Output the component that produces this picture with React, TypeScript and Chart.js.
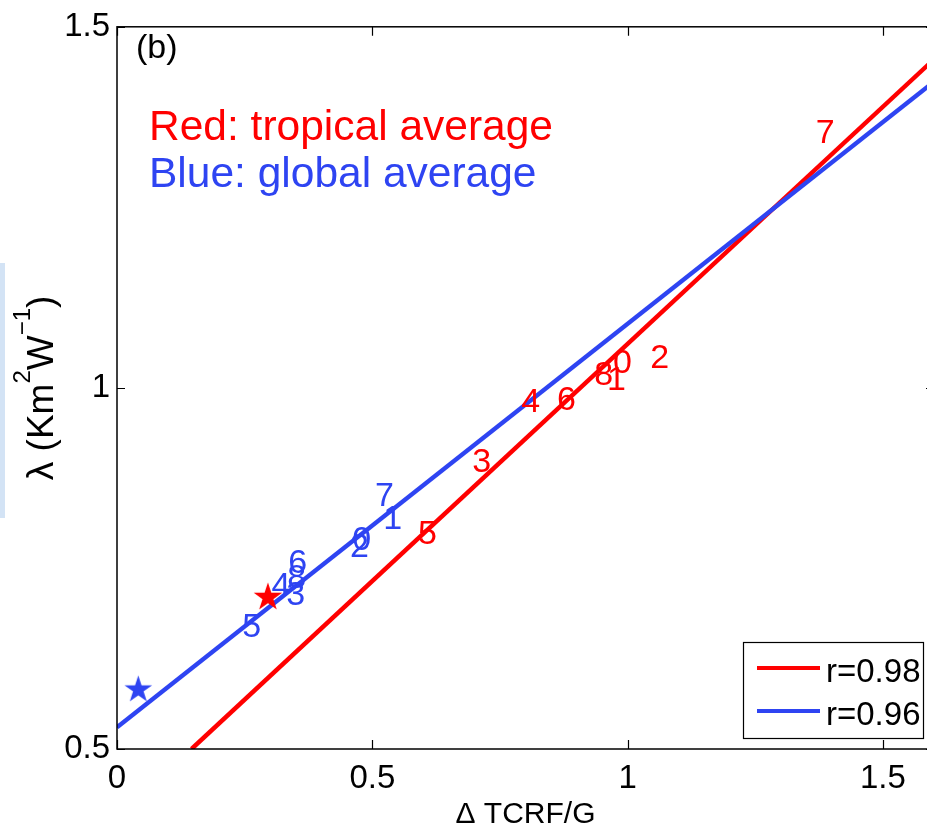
import React, { useEffect, useRef } from "react";
import { Chart, registerables } from "chart.js";

Chart.register(...registerables);

// ---- data ----
const X_TICKS = [0, 0.5, 1, 1.5];
const Y_TICKS = [0.5, 1, 1.5];
const X_MIN = 0;
const X_MAX = 1.6;
const Y_MIN = 0.5;
const Y_MAX = 1.5;

const MODEL_LABELS = ["0", "1", "2", "3", "4", "5", "6", "7", "8"];
const RED_X = [0.99, 0.978, 1.063, 0.714, 0.81, 0.608, 0.88, 1.387, 0.953];
const RED_Y = [1.034, 1.01, 1.041, 0.896, 0.98, 0.797, 0.983, 1.352, 1.017];
const BLUE_X = [0.479, 0.54, 0.475, 0.35, 0.321, 0.264, 0.354, 0.524, 0.352];
const BLUE_Y = [0.788, 0.817, 0.779, 0.712, 0.725, 0.668, 0.757, 0.849, 0.736];

const RED_STAR_X = [0.2955];
const RED_STAR_Y = [0.712];
const BLUE_STAR_X = [0.0417];
const BLUE_STAR_Y = [0.584];

const RED_FIT_X = [0.146, 1.6];
const RED_FIT_Y = [0.5, 1.455];
const BLUE_FIT_X = [0, 1.6];
const BLUE_FIT_Y = [0.53, 1.424];

const LEGEND_LABELS = ["r=0.98", "r=0.96"];
const PANEL_LABEL = "(b)";
const NOTE_RED = "Red: tropical average";
const NOTE_BLUE = "Blue: global average";
const X_TITLE = "\u0394 TCRF/G";

const RED = "#ff0000";
const BLUE = "#2e44f2";
const FONT = "'Liberation Sans', Arial, Helvetica, sans-serif";

const pts = (xs: number[], ys: number[]) => xs.map((x, i) => ({ x, y: ys[i] }));

function makeStar(color: string, R: number): HTMLCanvasElement {
  const size = Math.ceil(R * 2 + 4);
  const c = document.createElement("canvas");
  c.width = size;
  c.height = size;
  const g = c.getContext("2d")!;
  g.fillStyle = color;
  g.beginPath();
  for (let i = 0; i < 10; i++) {
    const r = i % 2 === 0 ? R : R * 0.382;
    const a = -Math.PI / 2 + (i * Math.PI) / 5;
    const px = size / 2 + r * Math.cos(a);
    const py = size / 2 + R * 0.095 + r * Math.sin(a);
    if (i === 0) g.moveTo(px, py);
    else g.lineTo(px, py);
  }
  g.closePath();
  g.fill();
  return c;
}

const decor = {
  id: "decor",
  afterDatasetsDraw(chart: any) {
    const { ctx, chartArea, scales } = chart;
    const { left, top, right, bottom } = chartArea;
    const xs = scales.x;
    const ys = scales.y;
    ctx.save();

    // number labels
    chart.data.datasets.forEach((ds: any, i: number) => {
      if (!ds.textLabels) return;
      const meta = chart.getDatasetMeta(i);
      ctx.fillStyle = ds.textColor;
      ctx.font = `34px ${FONT}`;
      ctx.textAlign = "center";
      ctx.textBaseline = "middle";
      meta.data.forEach((pt: any, j: number) => {
        ctx.fillText(ds.textLabels[j], pt.x, pt.y);
      });
    });

    // frame
    ctx.strokeStyle = "#000";
    ctx.lineWidth = 1.5;
    ctx.strokeRect(left, top, right - left, bottom - top);

    // inward ticks
    ctx.lineWidth = 1.2;
    ctx.beginPath();
    X_TICKS.forEach((v) => {
      const px = Math.round(xs.getPixelForValue(v)) + 0.5;
      ctx.moveTo(px, bottom);
      ctx.lineTo(px, bottom - 9);
      ctx.moveTo(px, top);
      ctx.lineTo(px, top + 9);
    });
    Y_TICKS.forEach((v) => {
      const py = Math.round(ys.getPixelForValue(v)) + 0.5;
      ctx.moveTo(left, py);
      ctx.lineTo(left + 8, py);
      ctx.moveTo(right, py);
      ctx.lineTo(right - 8, py);
    });
    ctx.stroke();

    // panel label and notes
    ctx.textAlign = "left";
    ctx.textBaseline = "alphabetic";
    ctx.fillStyle = "#000";
    ctx.font = `34px ${FONT}`;
    ctx.fillText(PANEL_LABEL, left + 19, top + 31);
    ctx.font = `42.5px ${FONT}`;
    ctx.fillStyle = RED;
    ctx.fillText(NOTE_RED, left + 32, top + 113);
    ctx.fillStyle = BLUE;
    ctx.fillText(NOTE_BLUE, left + 32, top + 160);

    // legend
    const lx = 743.5;
    const ly = 642.5;
    ctx.fillStyle = "#fff";
    ctx.fillRect(lx, ly, 180, 96);
    ctx.strokeStyle = "#000";
    ctx.lineWidth = 1.2;
    ctx.strokeRect(lx, ly, 180, 96);
    const lineDs = chart.data.datasets.filter((d: any) => d.isFit);
    lineDs.forEach((d: any, k: number) => {
      const yy = 668 + k * 43;
      ctx.strokeStyle = d.borderColor;
      ctx.lineWidth = 4;
      ctx.beginPath();
      ctx.moveTo(757, yy);
      ctx.lineTo(820, yy);
      ctx.stroke();
      ctx.fillStyle = "#000";
      ctx.font = `33px ${FONT}`;
      ctx.fillText(d.label, 826, yy + 14);
    });

    // y-axis title with superscripts
    const parts = [
      { t: "\u03bb (Km", s: 37, up: 0 },
      { t: "2", s: 24, up: 23 },
      { t: "W", s: 37, up: 0 },
      { t: "\u22121", s: 24, up: 23 },
      { t: ")", s: 37, up: 0 },
    ];
    let total = 0;
    parts.forEach((p) => {
      ctx.font = `${p.s}px ${FONT}`;
      total += ctx.measureText(p.t).width;
    });
    ctx.translate(53, (top + bottom) / 2);
    ctx.rotate(-Math.PI / 2);
    ctx.fillStyle = "#000";
    let cx = -total / 2;
    parts.forEach((p) => {
      ctx.font = `${p.s}px ${FONT}`;
      ctx.fillText(p.t, cx, -p.up);
      cx += ctx.measureText(p.t).width;
    });

    ctx.restore();
  },
};

export default function App() {
  const ref = useRef<HTMLCanvasElement | null>(null);

  useEffect(() => {
    if (!ref.current) return;
    const redStar = makeStar(RED, 15);
    const blueStar = makeStar(BLUE, 14.5);
    const chart = new Chart(ref.current, {
      type: "scatter",
      data: {
        datasets: [
          {
            type: "line",
            label: LEGEND_LABELS[0],
            isFit: true,
            data: pts(RED_FIT_X, RED_FIT_Y),
            borderColor: RED,
            borderWidth: 4.5,
            pointRadius: 0,
            fill: false,
            clip: 0,
            order: 5,
          } as any,
          {
            type: "line",
            label: LEGEND_LABELS[1],
            isFit: true,
            data: pts(BLUE_FIT_X, BLUE_FIT_Y),
            borderColor: BLUE,
            borderWidth: 4.5,
            pointRadius: 0,
            fill: false,
            clip: 0,
            order: 4,
          } as any,
          {
            label: "tropical",
            data: pts(RED_X, RED_Y),
            pointRadius: 0,
            textLabels: MODEL_LABELS,
            textColor: RED,
            order: 3,
          } as any,
          {
            label: "global",
            data: pts(BLUE_X, BLUE_Y),
            pointRadius: 0,
            textLabels: MODEL_LABELS,
            textColor: BLUE,
            order: 3,
          } as any,
          {
            label: "blue star",
            data: pts(BLUE_STAR_X, BLUE_STAR_Y),
            pointStyle: blueStar,
            pointRadius: 15,
            order: 1,
          } as any,
          {
            label: "red star",
            data: pts(RED_STAR_X, RED_STAR_Y),
            pointStyle: redStar,
            pointRadius: 15,
            order: 0,
          } as any,
        ],
      },
      options: {
        responsive: false,
        animation: false,
        devicePixelRatio: 1,
        events: [],
        layout: { padding: { top: 24, right: 15, left: 0, bottom: 0 } },
        plugins: {
          legend: { display: false },
          tooltip: { enabled: false },
        },
        scales: {
          x: {
            type: "linear",
            min: X_MIN,
            max: X_MAX,
            grid: { display: false, drawTicks: false },
            border: { display: false },
            afterBuildTicks: (s: any) => {
              s.ticks = X_TICKS.map((v) => ({ value: v }));
            },
            afterFit: (s: any) => {
              s.height = 81;
            },
            ticks: {
              color: "#000",
              padding: 10,
              maxRotation: 0,
              font: { family: FONT, size: 33 },
              callback: (v: any) => String(v),
            },
            title: {
              display: true,
              text: X_TITLE,
              color: "#000",
              font: { family: FONT, size: 30, lineHeight: 1 },
              padding: { top: 0, bottom: 0 },
              align: "center",
            },
          },
          y: {
            type: "linear",
            min: Y_MIN,
            max: Y_MAX,
            grid: { display: false, drawTicks: false },
            border: { display: false },
            afterBuildTicks: (s: any) => {
              s.ticks = Y_TICKS.map((v) => ({ value: v }));
            },
            afterFit: (s: any) => {
              s.width = 117;
            },
            ticks: {
              color: "#000",
              padding: 7,
              font: { family: FONT, size: 33 },
              callback: (v: any) => String(v),
            },
          },
        },
      } as any,
      plugins: [decor],
    });
    return () => chart.destroy();
  }, []);

  return (
    <div
      style={{
        position: "absolute",
        left: 0,
        top: 0,
        width: 927,
        height: 830,
        overflow: "hidden",
        background: "#fff",
      }}
    >
      <div
        style={{
          position: "absolute",
          left: 0,
          top: 263,
          width: 5,
          height: 255,
          background: "#d3e3f5",
        }}
      />
      <canvas
        ref={ref}
        width={950}
        height={830}
        style={{ position: "absolute", left: 0, top: 0, display: "block" }}
      />
    </div>
  );
}
